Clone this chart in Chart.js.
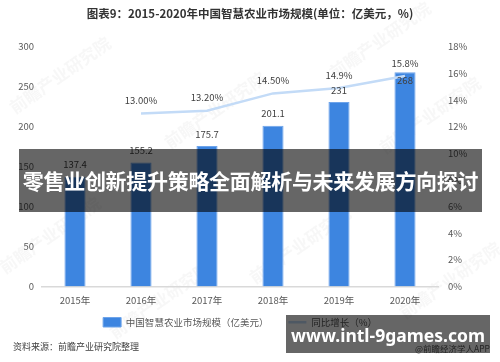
<!DOCTYPE html>
<html>
<head>
<meta charset="utf-8">
<script src="https://cdn.jsdelivr.net/npm/chart.js@4/dist/chart.umd.min.js"></script>
<style>
  body { margin: 0; background: #fff; }
  #wrap { position: relative; width: 500px; height: 362px; overflow: hidden; }
  #banner {
    position: absolute; left: 19px; top: 149px; width: 463px; height: 63px;
    background: rgba(0, 0, 0, 0.6); color: #fff;
    font: bold 21px "Noto Sans CJK SC", sans-serif;
    line-height: 63px; text-align: center; white-space: nowrap; letter-spacing: -0.3px;
  }
  #site {
    position: absolute; left: 286px; top: 315px; width: 204px; height: 38px;
    background: rgba(0, 0, 0, 0.6); color: #fff;
    font: bold 17.5px "Noto Sans", sans-serif;
    line-height: 40px; text-align: center; white-space: nowrap;
  }
  #source {
    position: absolute; left: 13px; top: 340px;
    font: 9px "Noto Sans CJK SC", sans-serif; color: #404040; white-space: nowrap;
  }
  #app {
    position: absolute; right: 10px; top: 342px;
    font: 8.5px "Noto Sans CJK SC", sans-serif; color: #555; white-space: nowrap;
  }
</style>
</head>
<body>
<div id="wrap">
  <canvas id="chart" width="500" height="362"></canvas>
  <div id="source">资料来源：前瞻产业研究院整理</div>
  <div id="app">@前瞻经济学人APP</div>
  <div id="banner">零售业创新提升策略全面解析与未来发展方向探讨</div>
  <div id="site">www.intl-9games.com</div>
</div>
<script>
// Chart data
const years = ["2015年", "2016年", "2017年", "2018年", "2019年", "2020年"];
const marketSize = [137.4, 155.2, 175.7, 201.1, 231, 268];
const growth = [null, 13.0, 13.2, 14.5, 14.9, 15.8];
const growthLabels = ["", "13.00%", "13.20%", "14.50%", "14.9%", "15.8%"];

const FONT = '"Noto Sans CJK SC", "Noto Sans", sans-serif';

// Faint watermarks behind the chart
const watermarkPlugin = {
    id: "watermark",
    beforeDraw(chart) {
        const ctx = chart.ctx;
        const spots = [[60, 75], [215, 110], [430, 115], [50, 235], [300, 245], [450, 280], [160, 300], [380, 40]];
        ctx.save();
        ctx.fillStyle = "rgba(200, 200, 200, 0.14)";
        ctx.font = "bold 17px " + FONT;
        ctx.textAlign = "center";
        ctx.textBaseline = "middle";
        spots.forEach(([x, y]) => {
            ctx.save();
            ctx.translate(x, y);
            ctx.rotate(-35 * Math.PI / 180);
            ctx.fillText("前瞻产业研究院", 0, 0);
            ctx.restore();
        });
        ctx.restore();
    }
};

// Legend sits closer to the axis labels than Chart.js puts it
const legendNudge = {
    id: "legendNudge",
    afterLayout(chart) {
        chart.legend.top -= 15;
        chart.legend.bottom -= 15;
    }
};

// Value labels above bars and line points
const valueLabels = {
    id: "valueLabels",
    afterDatasetsDraw(chart) {
        const ctx = chart.ctx;
        ctx.save();
        ctx.font = "9.5px " + FONT;
        ctx.fillStyle = "#404040";
        ctx.textAlign = "center";
        ctx.textBaseline = "middle";
        const lineMeta = chart.getDatasetMeta(1);
        lineMeta.data.forEach((pt, i) => {
            if (growth[i] == null) return;
            ctx.fillText(growthLabels[i], pt.x, pt.y - 13);
        });
        const barMeta = chart.getDatasetMeta(0);
        barMeta.data.forEach((bar, i) => {
            let y = bar.y - 12;
            // if the line label sits right there, put the value just inside the bar top
            const pt = lineMeta.data[i];
            if (growth[i] != null && Math.abs((pt.y - 13) - y) < 14) y = bar.y + 8;
            ctx.fillText(String(marketSize[i]), bar.x, y);
        });
        ctx.restore();
    }
};

new Chart(document.getElementById("chart"), {
    type: "bar",
    plugins: [watermarkPlugin, legendNudge, valueLabels],
    data: {
        labels: years,
        datasets: [
            {
                label: "中国智慧农业市场规模（亿美元）",
                data: marketSize,
                backgroundColor: "#3d85e0",
                borderColor: "#6ea4ea",
                borderWidth: 1,
                barPercentage: 0.64,
                categoryPercentage: 0.5,
                pointStyle: "rect",
                yAxisID: "y",
                order: 2
            },
            {
                type: "line",
                label: "同比增长（%）",
                data: growth,
                borderColor: "#c3dbf7",
                backgroundColor: "#c3dbf7",
                borderWidth: 2.5,
                pointRadius: 0,
                pointStyle: "line",
                tension: 0,
                yAxisID: "y1",
                order: 1
            }
        ]
    },
    options: {
        responsive: false,
        animation: false,
        layout: { padding: { top: 4, bottom: 10, left: 0, right: 0 } },
        plugins: {
            title: {
                display: true,
                text: "图表9：2015-2020年中国智慧农业市场规模(单位：亿美元，%)",
                color: "#333",
                font: { size: 11.5, weight: "bold", family: FONT, lineHeight: 1.2 },
                padding: { top: 3, bottom: 26 }
            },
            legend: {
                position: "bottom",
                fullSize: false,
                labels: {
                    usePointStyle: true,
                    pointStyleWidth: 18,
                    boxHeight: 10,
                    padding: 20,
                    color: "#595959",
                    font: { size: 9.5, family: FONT },
                    sort: (a, b) => a.datasetIndex - b.datasetIndex
                }
            },
            tooltip: { enabled: false }
        },
        scales: {
            x: {
                grid: { display: false, drawTicks: false },
                border: { color: "#d9d9d9", width: 1.5 },
                ticks: { color: "#595959", font: { size: 9.5, family: FONT }, padding: 8 },
                afterFit: s => { s.height = 26; }
            },
            y: {
                position: "left",
                min: 0, max: 300,
                grid: { display: false, drawTicks: false },
                border: { display: false },
                ticks: { stepSize: 50, color: "#595959", font: { size: 9.5, family: FONT }, padding: 8 },
                afterFit: s => { s.width = 42; }
            },
            y1: {
                position: "right",
                min: 0, max: 18,
                grid: { display: false, drawTicks: false },
                border: { display: false },
                ticks: { stepSize: 2, color: "#595959", font: { size: 9.5, family: FONT }, padding: 10,
                         callback: v => v + "%" },
                afterFit: s => { s.width = 62; }
            }
        }
    }
});
</script>
</body>
</html>
